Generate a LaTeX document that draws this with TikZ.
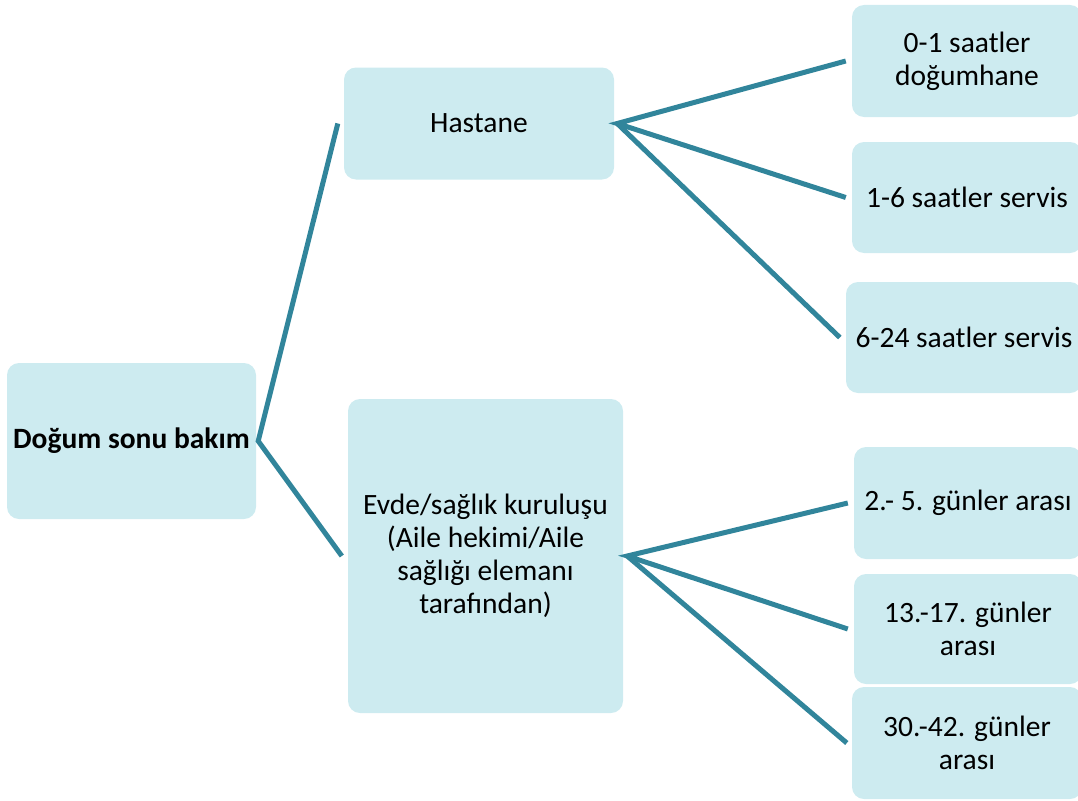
\documentclass[tikz,border=0pt]{standalone}
\usepackage{fontspec}
\setmainfont{Carlito}
\definecolor{boxfill}{RGB}{205,235,240}
\definecolor{linecol}{RGB}{49,133,155}
\begin{document}
\begin{tikzpicture}[x=1pt,y=-1pt,
  box/.style={fill=boxfill, rounded corners=12pt, inner sep=0pt, align=center,
    font=\fontsize{29.5}{33}\selectfont},
  conn/.style={draw=linecol, line width=5pt}]
\useasboundingbox (0,0) rectangle (1078,800);
\clip (0,0) rectangle (1078,800);
\node[box, minimum width=249pt, minimum height=156pt,
  font=\bfseries\fontsize{29.5}{33}\selectfont] (root) at (131.5,441) {Doğum sonu bakım};
\node[box, minimum width=270pt, minimum height=112pt] (h) at (479,123.5) {Hastane};
\node[box, minimum width=275pt, minimum height=314pt] (e) at (485.5,556)
  {Evde/sağlık kuruluşu\\(Aile hekimi/Aile\\sağlığı elemanı\\tarafından)};
\node[box, minimum width=230pt, minimum height=112pt] (l1) at (967,61) {0-1 saatler\\doğumhane};
\node[box, minimum width=230pt, minimum height=111pt] (l2) at (967,197.5) {1-6 saatler servis};
\node[box, minimum width=236pt, minimum height=111pt] (l3) at (964,337.5) {6-24 saatler servis};
\node[box, minimum width=228pt, minimum height=112pt] (l4) at (968,503) {2.- 5. günler arası};
\node[box, minimum width=228pt, minimum height=110pt] (l5) at (968,629) {13.-17. günler\\arası};
\node[box, minimum width=230pt, minimum height=112pt] (l6) at (967,743) {30.-42. günler\\arası};
\draw[conn] ([xshift=-6pt]h.west) -- ([xshift=2pt]root.east) -- ([xshift=-6pt]e.west);
\draw[conn] ([xshift=-6pt]l1.west) -- ([xshift=3pt]h.east) -- ([xshift=-6pt]l2.west);
\draw[conn] ([xshift=3pt]h.east) -- ([xshift=-6pt]l3.west);
\draw[conn] ([xshift=-6pt]l4.west) -- ([xshift=4pt]e.east) -- ([xshift=-6pt]l5.west);
\draw[conn] ([xshift=4pt]e.east) -- ([xshift=-5pt]l6.west);
\end{tikzpicture}
\end{document}
